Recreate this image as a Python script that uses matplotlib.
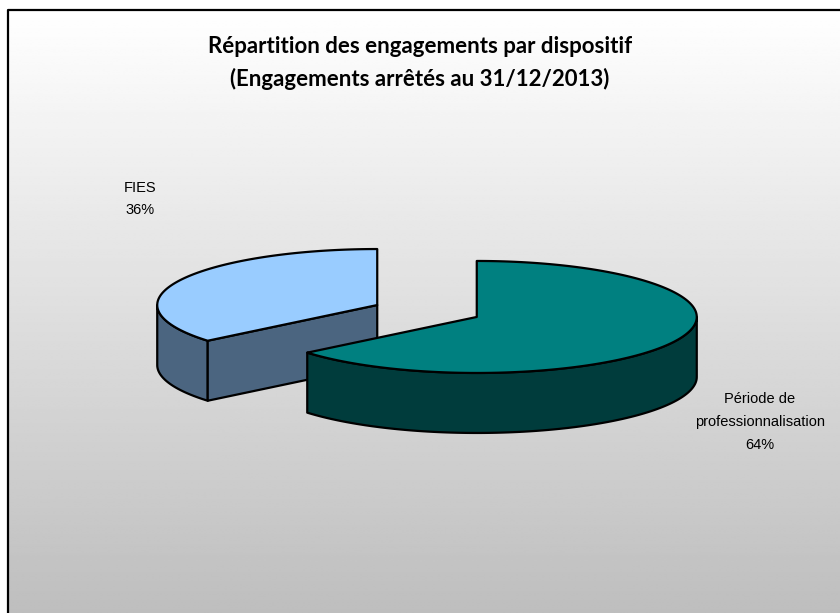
import numpy as np
import matplotlib.pyplot as plt
from matplotlib.patches import Polygon

# data
labels = ['FIES', 'Période de\nprofessionnalisation']
values = [36, 64]
top_colors = ['#99ccff', '#008080']
side_colors = ['#4b6580', '#003c3c']
label_pos = [(140, 199), (760, 422)]

title = 'Répartition des engagements par dispositif\n(Engagements arrêtés au 31/12/2013)'

# 3d pie geometry (pixels)
cx0, cy0 = 427, 311
ra, rb = 220, 56
depth = 60
explode = 0.25

fig = plt.figure(figsize=(8.4, 6.13), dpi=100)
ax = fig.add_axes([0, 0, 1, 1])
ax.set_xlim(0, 840)
ax.set_ylim(613, 0)
ax.axis('off')

# gradient background inside the chart frame
grad = np.linspace(255, 190, 256) / 255.0
img = np.repeat(grad[:, None], 2, axis=1)
ax.imshow(img, extent=(8, 840, 613, 10), cmap='gray', vmin=0, vmax=1,
          aspect='auto', zorder=0, interpolation='bilinear')
ax.plot([8, 8, 840], [613, 10, 10], color='black', lw=1.6, zorder=1)


def pt(t, cx, cy, z=0):
    r = np.radians(t)
    return cx + ra * np.cos(r), cy - rb * np.sin(r) + z


def arc(t0, t1, cx, cy, z=0):
    ts = np.linspace(t0, t1, max(int(abs(t1 - t0)), 2))
    xs, ys = pt(ts, cx, cy, z)
    return list(zip(xs, ys))


total = float(sum(values))
angles = np.cumsum([0] + values) / total * 360 + 90
slices = []
for i, v in enumerate(values):
    t0, t1 = angles[i], angles[i + 1]
    mid = np.radians((t0 + t1) / 2)
    cx = cx0 + explode * ra * np.cos(mid)
    cy = cy0 - explode * rb * np.sin(mid)
    slices.append((cy, i, t0, t1, cx))

kw = dict(edgecolor='black', lw=1.6, joinstyle='round')
for cy, i, t0, t1, cx in sorted(slices):
    z = 2 + i * 3
    # outer wall, front part
    for lo, hi in [(180, 360), (540, 720)]:
        s, e = max(t0, lo), min(t1, hi)
        if e > s:
            poly = arc(s, e, cx, cy) + arc(e, s, cx, cy, depth)
            ax.add_patch(Polygon(poly, facecolor=side_colors[i], zorder=z, **kw))
    # radial walls facing the viewer
    for t, vis in [(t0, np.cos(np.radians(t0)) > 1e-6), (t1, np.cos(np.radians(t1)) < -1e-6)]:
        if vis:
            px, py = pt(t, cx, cy)
            poly = [(cx, cy), (px, py), (px, py + depth), (cx, cy + depth)]
            ax.add_patch(Polygon(poly, facecolor=side_colors[i], zorder=z, **kw))
    # top face
    poly = [(cx, cy)] + arc(t0, t1, cx, cy)
    ax.add_patch(Polygon(poly, facecolor=top_colors[i], zorder=z + 1, **kw))

for i, (lab, v) in enumerate(zip(labels, values)):
    x, y = label_pos[i]
    ax.text(x, y, '%s\n%d%%' % (lab, v), ha='center', va='center',
            fontsize=10.5, family='Liberation Sans', linespacing=1.8, zorder=10)

ax.text(420, 63, title, ha='center', va='center', fontsize=16,
        fontweight='bold', family='Lato', linespacing=1.6, zorder=10)

fig.savefig('out.png', dpi=100)
